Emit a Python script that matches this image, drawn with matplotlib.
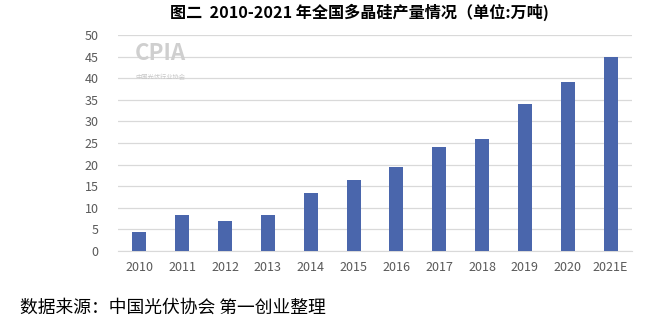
import matplotlib
matplotlib.use("Agg")
import matplotlib.pyplot as plt

plt.rcParams['font.family'] = ['Noto Sans CJK SC', 'DejaVu Sans']

years = ['2010', '2011', '2012', '2013', '2014', '2015', '2016', '2017',
         '2018', '2019', '2020', '2021E']
output = [4.4, 8.3, 6.9, 8.3, 13.4, 16.4, 19.4, 24.1, 25.9, 34.0, 39.1, 44.9]
yticks = [0, 5, 10, 15, 20, 25, 30, 35, 40, 45, 50]

title = '图二  2010-2021 年全国多晶硅产量情况（单位:万吨)'
source = '数据来源：中国光伏协会 第一创业整理'

fig = plt.figure(figsize=(6.54, 3.23), dpi=100)
ax = fig.add_axes([118 / 654, 1 - 251 / 323, (632 - 118) / 654, (251 - 35) / 323])

ax.bar(range(len(years)), output, width=0.33, color='#4a66ac', zorder=3)

ax.set_ylim(0, 50)
ax.set_xlim(-0.5, len(years) - 0.5)
ax.set_yticks(yticks)
ax.set_xticks(range(len(years)))
ax.set_xticklabels(years)
ax.grid(axis='y', color='#d9d9d9', linewidth=0.9, zorder=0)
for s in ['top', 'right', 'left']:
    ax.spines[s].set_visible(False)
ax.spines['bottom'].set_color('#d9d9d9')
ax.tick_params(axis='both', length=0, labelsize=9, colors='#595959', pad=7)
ax.tick_params(axis='y', pad=14)

# faint watermark logo
fig.text(0.245, 0.835, 'CPIA', fontsize=16, fontweight='bold', color='#cfcfcf',
         ha='center', va='center')
fig.text(0.245, 0.762, '中国光伏行业协会', fontsize=4.5, color='#c8c8c8',
         ha='center', va='center')

fig.text(359 / 654, 0.962, title, fontsize=11.6, fontweight='bold', ha='center', va='center')
fig.text(0.03, 0.048, source, fontsize=12.8, ha='left', va='center')

fig.savefig('out.png', dpi=100)
